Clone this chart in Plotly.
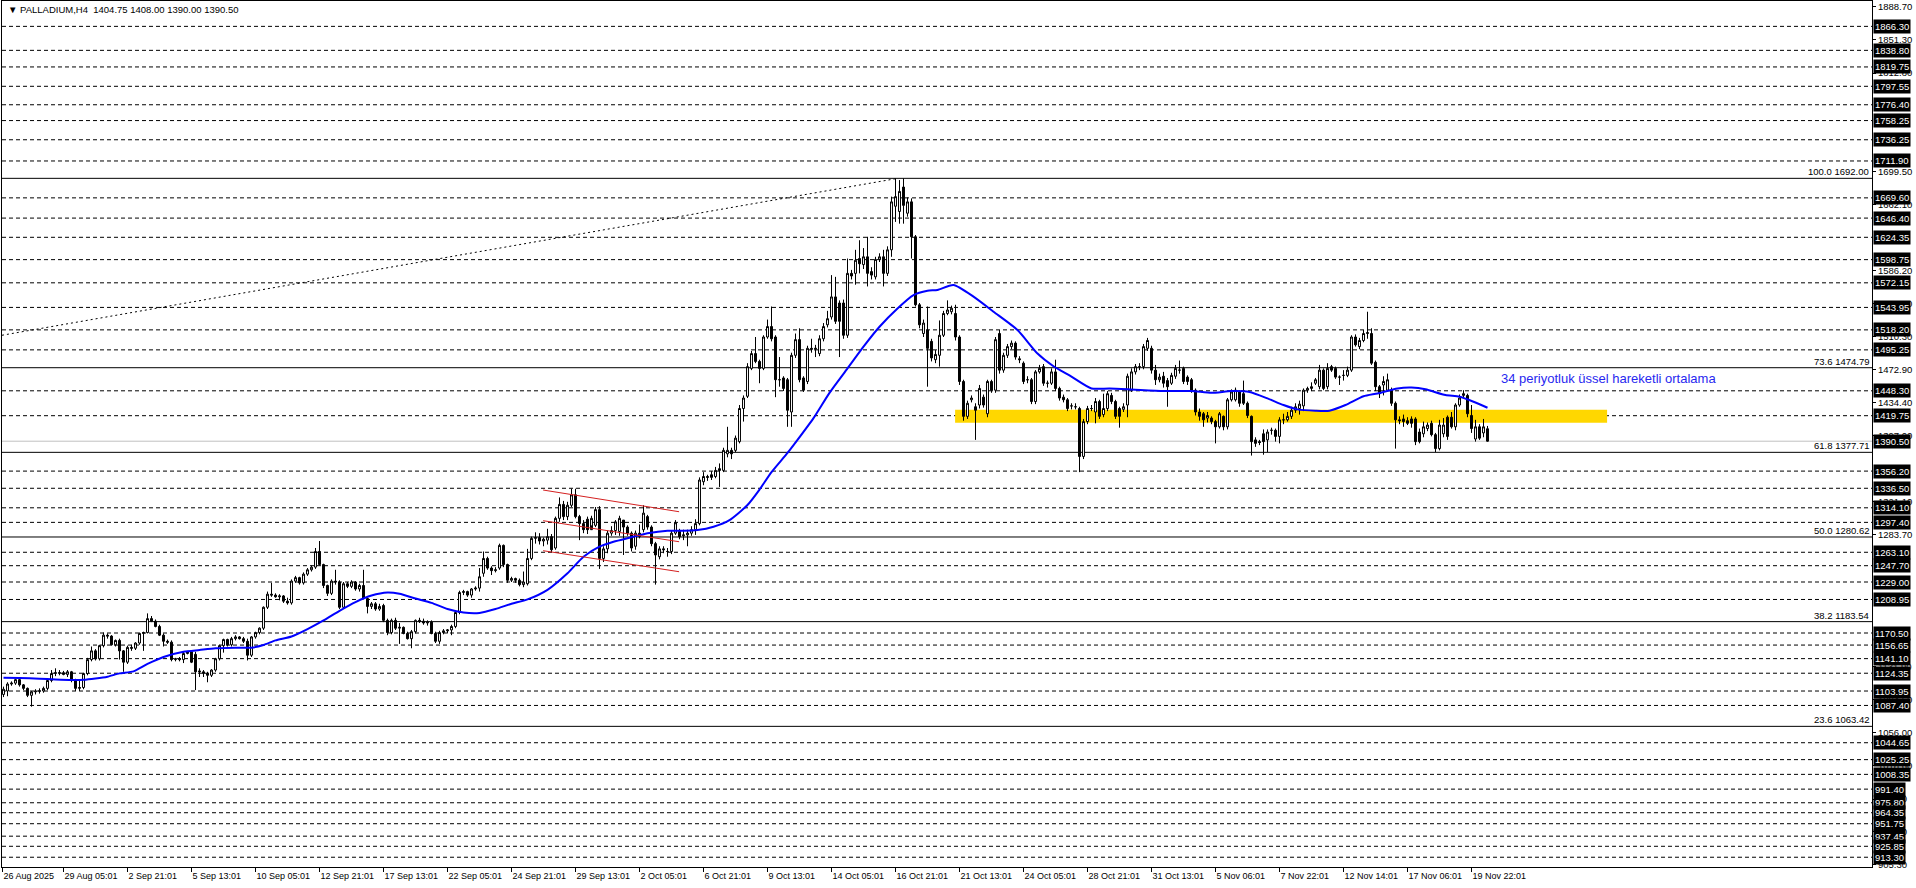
import plotly.graph_objects as go

# ---------------- data (H4 bars, index 0 = 26 Aug 2025) ----------------
opens = [
1100,1104,1112,1113,1117,1111,1107,1099,1103,1104,
1104,1107,1116,1124,1125,1125,1123,1126,1116,1107,
1108,1124,1140,1150,1141,1156,1168,1167,1157,1162,
1150,1137,1154,1153,1159,1170,1171,1187,1184,1178,
1168,1161,1160,1140,1141,1140,1147,1149,1146,1127,
1126,1124,1122,1128,1141,1156,1163,1157,1164,1166,
1164,1161,1145,1166,1171,1176,1200,1215,1214,1212,
1213,1207,1205,1230,1234,1228,1238,1243,1246,1264,
1249,1225,1216,1230,1229,1200,1227,1224,1229,1221,
1225,1210,1201,1204,1198,1202,1185,1171,1185,1176,
1177,1170,1164,1172,1185,1184,1182,1183,1170,1161,
1171,1173,1174,1178,1194,1217,1218,1214,1221,1222,
1239,1256,1245,1242,1245,1271,1249,1231,1233,1231,
1226,1227,1256,1279,1280,1276,1277,1281,1268,1302,
1318,1304,1317,1329,1304,1296,1301,1289,1294,1312,
1256,1267,1285,1288,1287,1300,1292,1285,1270,1285,
1289,1304,1292,1273,1258,1267,1264,1264,1285,1287,
1282,1283,1285,1289,1296,1344,1350,1352,1350,1359,
1357,1376,1380,1380,1390,1428,1442,1474,1491,1482,
1474,1510,1522,1510,1461,1463,1461,1424,1489,1507,
1463,1459,1497,1496,1491,1508,1524,1533,1556,1549,
1549,1512,1583,1583,1600,1593,1602,1585,1579,1599,
1602,1583,1610,1660,1654,1682,1652,1665,1625,1547,
1514,1518,1505,1484,1489,1512,1537,1539,1537,1510,
1459,1419,1438,1430,1432,1441,1422,1459,1449,1514,
1472,1489,1499,1503,1485,1480,1461,1461,1436,1470,
1476,1457,1457,1470,1451,1441,1438,1431,1430,1428,
1373,1413,1428,1424,1436,1421,1428,1443,1436,1428,
1427,1432,1449,1470,1476,1476,1497,1497,1472,1461,
1465,1460,1457,1465,1472,1474,1464,1461,1449,1424,
1422,1417,1417,1413,1407,1419,1407,1438,1438,1447,
1445,1434,1419,1392,1390,1399,1392,1403,1403,1396,
1415,1415,1419,1426,1428,1431,1449,1451,1457,1453,
1472,1453,1476,1474,1464,1466,1466,1472,1510,1499,
1506,1514,1514,1481,1453,1455,1449,1449,1434,1415,
1416,1414,1416,1416,1401,1399,1405,1411,1398,1382,
1399,1418,1418,1407,1432,1443,1443,1420,1393,1407,
1400,1404.75]

highs = [
1109,1114,1115,1118,1120,1112,1108,1104,1106,1107,
1109,1118,1128,1130,1128,1127,1128,1127,1118,1116,
1125,1142,1155,1152,1157,1171,1170,1168,1163,1164,
1151,1156,1157,1160,1171,1172,1193,1190,1186,1180,
1170,1163,1162,1142,1143,1149,1150,1150,1149,1130,
1128,1126,1129,1142,1157,1164,1164,1166,1168,1167,
1166,1164,1167,1172,1177,1201,1218,1228,1216,1215,
1214,1211,1232,1236,1235,1240,1245,1248,1268,1276,
1250,1226,1232,1243,1231,1229,1229,1231,1230,1227,
1243,1211,1206,1206,1204,1204,1187,1187,1188,1182,
1178,1172,1174,1186,1188,1187,1185,1185,1172,1173,
1175,1175,1180,1195,1219,1220,1219,1222,1224,1245,
1264,1258,1247,1246,1273,1272,1250,1235,1234,1233,
1241,1267,1281,1286,1285,1280,1290,1284,1304,1326,
1322,1321,1336,1336,1306,1300,1304,1305,1315,1316,
1270,1288,1293,1300,1305,1298,1294,1287,1288,1295,
1317,1306,1294,1275,1270,1270,1268,1288,1300,1290,
1289,1289,1293,1301,1349,1355,1352,1356,1361,1365,
1383,1407,1383,1397,1432,1443,1480,1494,1510,1484,
1512,1530,1545,1512,1487,1465,1463,1492,1514,1520,
1465,1500,1508,1501,1512,1526,1540,1581,1579,1552,
1553,1600,1587,1610,1621,1612,1625,1590,1602,1606,
1610,1614,1671,1692,1690,1692,1670,1669,1627,1549,
1530,1545,1508,1495,1529,1540,1552,1546,1547,1512,
1461,1437,1443,1434,1455,1444,1461,1461,1510,1518,
1492,1502,1506,1505,1488,1482,1465,1463,1472,1478,
1479,1460,1474,1484,1453,1444,1440,1434,1434,1430,
1416,1431,1432,1440,1438,1445,1448,1446,1438,1430,
1434,1468,1474,1479,1480,1502,1509,1500,1478,1468,
1470,1463,1469,1478,1483,1476,1466,1463,1451,1428,
1424,1424,1419,1415,1424,1420,1440,1450,1452,1449,
1460,1436,1420,1395,1392,1404,1404,1406,1405,1418,
1422,1424,1430,1434,1437,1451,1453,1458,1463,1478,
1474,1480,1478,1476,1466,1472,1476,1512,1513,1509,
1518,1539,1520,1483,1455,1465,1468,1452,1436,1419,
1421,1418,1419,1418,1405,1413,1412,1414,1400,1415,
1417,1420,1424,1434,1444,1449,1445,1432,1415,1410,
1416,1408]

lows = [
1097,1098,1110,1111,1109,1105,1097,1086,1100,1101,
1102,1105,1114,1121,1122,1122,1120,1114,1104,1104,
1106,1122,1138,1139,1139,1154,1164,1156,1155,1140,
1126,1135,1150,1151,1157,1150,1170,1183,1177,1167,
1155,1158,1138,1138,1138,1136,1146,1136,1105,1120,
1120,1114,1120,1126,1139,1148,1155,1155,1162,1163,
1159,1139,1143,1164,1169,1174,1198,1212,1211,1208,
1205,1203,1203,1228,1226,1226,1236,1241,1244,1248,
1222,1213,1214,1226,1198,1198,1222,1222,1219,1218,
1209,1193,1198,1196,1196,1183,1168,1169,1174,1158,
1169,1163,1153,1170,1182,1180,1179,1169,1159,1158,
1169,1170,1168,1176,1192,1214,1212,1211,1219,1218,
1235,1243,1237,1240,1243,1246,1228,1229,1228,1224,
1223,1225,1254,1273,1272,1270,1272,1263,1266,1298,
1300,1300,1315,1302,1277,1285,1284,1294,1292,1244,
1252,1262,1282,1283,1282,1260,1282,1264,1266,1279,
1286,1289,1270,1226,1255,1262,1258,1261,1283,1278,
1277,1270,1282,1283,1294,1340,1345,1346,1348,1338,
1355,1372,1370,1378,1388,1413,1440,1472,1480,1457,
1472,1508,1505,1441,1453,1448,1407,1407,1486,1458,
1447,1456,1492,1487,1488,1505,1521,1530,1525,1487,
1508,1509,1576,1570,1583,1588,1568,1576,1576,1596,
1568,1580,1602,1642,1640,1640,1648,1600,1545,1520,
1510,1453,1482,1480,1476,1510,1535,1536,1506,1455,
1414,1416,1435,1392,1428,1429,1418,1446,1446,1468,
1469,1486,1496,1484,1480,1456,1457,1433,1433,1468,
1454,1452,1455,1448,1437,1435,1425,1427,1427,1355,
1370,1410,1425,1411,1416,1418,1425,1433,1416,1406,
1424,1418,1447,1467,1472,1473,1494,1468,1455,1458,
1452,1430,1455,1462,1468,1456,1455,1446,1420,1414,
1407,1412,1410,1388,1405,1403,1404,1436,1436,1430,
1432,1417,1374,1384,1386,1375,1378,1398,1390,1388,
1410,1413,1416,1423,1421,1425,1446,1448,1455,1450,
1449,1450,1470,1462,1455,1460,1464,1470,1499,1496,
1504,1508,1478,1448,1440,1443,1447,1431,1382,1410,
1407,1409,1406,1386,1388,1395,1402,1396,1378,1380,
1395,1392,1405,1403,1430,1440,1418,1400,1390,1392,
1395,1390]

closes = [
1106,1112,1113,1117,1111,1107,1099,1103,1104,1104,
1107,1116,1124,1125,1125,1123,1126,1116,1107,1108,
1124,1140,1150,1141,1156,1168,1167,1157,1162,1150,
1137,1154,1153,1159,1170,1171,1187,1184,1178,1168,
1161,1160,1140,1141,1140,1147,1149,1137,1126,1126,
1124,1122,1128,1141,1156,1163,1157,1164,1166,1164,
1161,1145,1166,1171,1176,1200,1215,1214,1212,1213,
1207,1205,1230,1234,1228,1238,1243,1246,1264,1249,
1225,1216,1230,1229,1200,1227,1224,1229,1221,1225,
1210,1201,1204,1198,1201,1185,1171,1185,1176,1177,
1170,1164,1172,1185,1184,1182,1183,1170,1161,1171,
1173,1174,1178,1194,1217,1218,1214,1221,1222,1235,
1256,1245,1242,1243,1271,1249,1231,1233,1231,1226,
1229,1256,1279,1280,1276,1278,1281,1266,1302,1318,
1304,1317,1329,1304,1296,1289,1289,1302,1312,1256,
1267,1285,1288,1298,1302,1292,1285,1268,1285,1281,
1308,1292,1273,1260,1267,1266,1264,1285,1297,1281,
1283,1285,1289,1296,1346,1350,1349,1349,1357,1357,
1380,1380,1376,1394,1428,1440,1476,1491,1482,1474,
1510,1522,1508,1461,1461,1451,1426,1489,1507,1461,
1449,1497,1496,1497,1508,1522,1531,1556,1528,1528,
1512,1583,1580,1598,1594,1602,1583,1581,1599,1602,
1583,1610,1665,1671,1677,1661,1665,1625,1547,1524,
1526,1497,1486,1490,1512,1537,1541,1543,1510,1459,
1419,1434,1440,1426,1451,1432,1459,1449,1507,1472,
1489,1499,1503,1487,1484,1459,1461,1436,1470,1474,
1457,1457,1470,1451,1440,1438,1428,1431,1430,1373,
1413,1428,1428,1436,1419,1428,1445,1436,1419,1419,
1430,1465,1470,1476,1476,1499,1506,1472,1461,1464,
1457,1453,1466,1474,1472,1459,1459,1449,1424,1419,
1415,1420,1413,1407,1422,1407,1438,1447,1449,1434,
1434,1420,1390,1388,1389,1390,1401,1403,1396,1415,
1415,1419,1426,1430,1433,1449,1451,1453,1461,1472,
1451,1474,1472,1464,1464,1466,1472,1510,1501,1506,
1514,1515,1480,1453,1445,1459,1461,1434,1415,1414,
1413,1411,1411,1390,1390,1407,1409,1398,1382,1409,
1409,1396,1407,1432,1440,1445,1422,1405,1407,1394,
1407,1390.5]

# 34-period EMA (bar index, value)
ema_bars = [0, 4, 9, 13, 17, 20, 23, 26, 29, 32.5, 36, 40, 45, 49, 53, 58, 62, 65, 68, 72,
            76, 80, 84, 88, 92, 96, 99, 103, 107, 111, 115, 119, 123, 127, 131, 136, 141,
            145, 149, 152.5, 156.5, 161, 166, 170, 173.5, 177.5, 181.5, 186, 189, 192, 196,
            198.5, 202.5, 206.5, 211, 215, 219, 223.5, 227.5, 231, 233.5, 237.5, 242.5,
            247.5, 253.5, 258.5, 262.5, 266.5, 272, 276.5, 283, 290, 297, 302, 307, 311.5,
            316, 320, 323.5, 328, 331.5, 335.5, 340, 343.5, 348.5, 352, 355.5, 360.5, 364,
            367.5, 371]
ema_values = [1119.3, 1119.0, 1118.1, 1117.2, 1116.6, 1116.8, 1118.3, 1120.4, 1124.2, 1126.5,
              1135.0, 1143.0, 1149.0, 1151.0, 1153.0, 1153.7, 1153.7, 1156.7, 1162.0, 1166.5,
              1175.0, 1185.0, 1196.0, 1206.0, 1213.5, 1217.0, 1215.5, 1210.0, 1205.0, 1198.0,
              1194.0, 1193.5, 1198.0, 1204.0, 1209.0, 1220.0, 1239.0, 1258.0, 1269.5, 1275.2,
              1279.8, 1284.8, 1287.8, 1287.8, 1288.6, 1292.4, 1300.0, 1317.3, 1335.0, 1355.0,
              1377.0, 1392.0, 1417.0, 1446.0, 1474.0, 1499.0, 1521.8, 1542.8, 1558.1, 1563.0,
              1564.0, 1569.6, 1556.3, 1539.0, 1518.0, 1491.0, 1476.5, 1466.0, 1451.0, 1451.0,
              1449.5, 1448.0, 1448.0, 1446.0, 1448.0, 1447.0, 1439.6, 1432.0, 1427.0, 1425.5,
              1425.5, 1432.0, 1442.0, 1445.3, 1451.0, 1452.0, 1450.0, 1443.4, 1441.5, 1435.8,
              1428.9]

x_labels = ["26 Aug 2025", "29 Aug 05:01", "2 Sep 21:01", "5 Sep 13:01", "10 Sep 05:01",
            "12 Sep 21:01", "17 Sep 13:01", "22 Sep 05:01", "24 Sep 21:01", "29 Sep 13:01",
            "2 Oct 05:01", "6 Oct 21:01", "9 Oct 13:01", "14 Oct 05:01", "16 Oct 21:01",
            "21 Oct 13:01", "24 Oct 05:01", "28 Oct 21:01", "31 Oct 13:01", "5 Nov 06:01",
            "7 Nov 22:01", "12 Nov 14:01", "17 Nov 06:01", "19 Nov 22:01"]
x_label_bars = [-0.25, 15, 31, 47, 63, 79, 95, 111, 127, 143, 159, 175, 191, 207, 223,
                239, 255, 271, 287, 303, 319, 335, 351, 367]

# price-scale labels that stay (at least partly) visible next to the line labels
price_scale = [1888.70, 1851.30, 1812.80, 1699.50, 1662.10,
               1586.20, 1548.80, 1510.30, 1472.90, 1434.40, 1397.00, 1321.10,
               1283.70, 1131.90, 1094.50, 1056.00, 1018.60,
               980.10, 942.70, 905.30]

hlines = [1866.30, 1838.80, 1819.75, 1797.55, 1776.40, 1758.25, 1736.25, 1711.90, 1669.60,
          1646.40, 1624.35, 1598.75, 1572.15, 1543.95, 1518.20, 1495.25, 1448.30, 1419.75,
          1356.20, 1336.50, 1314.10, 1297.40, 1263.10, 1247.70, 1229.00, 1208.95, 1170.50,
          1156.65, 1141.10, 1124.35, 1103.95, 1087.40, 1044.65, 1025.25, 1008.35, 991.40,
          975.80, 964.35, 951.75, 937.45, 925.85, 913.30]

fib_pct = ["100.0", "73.6", "61.8", "50.0", "38.2", "23.6"]
fib_levels = [1692.00, 1474.79, 1377.71, 1280.62, 1183.54, 1063.42]

bid_price = 1390.50

zone_bars = [237.9, 400.9]
zone_prices = [1411.6, 1426.5]

fib_link_bars = [-0.375, 223.6]
fib_link_prices = [1512.0, 1692.0]

channel_bars = [134.9, 168.9]
channel_upper = [1334.5, 1309.6]
channel_mid = [1299.3, 1275.2]
channel_lower = [1264.9, 1240.8]

ema_note = "34 periyotluk üssel hareketli ortalama"
ema_note_pos = [373.9, 1462.9]

title_text = "▼ PALLADIUM,H4  1404.75 1408.00 1390.00 1390.50"

# ---------------- figure ----------------
idx = list(range(len(closes)))

FONT = "Liberation Sans"

fig = go.Figure()

fig.add_trace(go.Candlestick(
    x=idx, open=opens, high=highs, low=lows, close=closes,
    increasing=dict(line=dict(color="black", width=1), fillcolor="white"),
    decreasing=dict(line=dict(color="black", width=1), fillcolor="black"),
    whiskerwidth=0, hoverinfo="skip", showlegend=False))

fig.add_trace(go.Scatter(x=ema_bars, y=ema_values, mode="lines",
                         line=dict(color="#0000ff", width=2, shape="spline", smoothing=0.6),
                         hoverinfo="skip", showlegend=False))

shapes = []
shapes.append(dict(type="rect", xref="x", yref="y", x0=zone_bars[0], x1=zone_bars[1],
                   y0=zone_prices[0], y1=zone_prices[1], fillcolor="#ffd700",
                   line=dict(width=0), layer="below"))
for lv in hlines:
    shapes.append(dict(type="line", xref="paper", yref="y", x0=0, x1=1, y0=lv, y1=lv,
                       line=dict(color="black", width=1, dash="4px,3px"), layer="below"))
for lv in fib_levels:
    shapes.append(dict(type="line", xref="paper", yref="y", x0=0, x1=1, y0=lv, y1=lv,
                       line=dict(color="black", width=1), layer="below"))
shapes.append(dict(type="line", xref="paper", yref="y", x0=0, x1=1, y0=bid_price, y1=bid_price,
                   line=dict(color="#c0c0c0", width=1), layer="below"))
shapes.append(dict(type="line", xref="x", yref="y", x0=fib_link_bars[0], x1=fib_link_bars[1],
                   y0=fib_link_prices[0], y1=fib_link_prices[1],
                   line=dict(color="black", width=1, dash="2px,3px"), layer="below"))
for ys in (channel_upper, channel_mid, channel_lower):
    shapes.append(dict(type="line", xref="x", yref="y", x0=channel_bars[0], x1=channel_bars[1],
                       y0=ys[0], y1=ys[1], line=dict(color="#d42020", width=1), layer="above"))

annotations = []
for lv in hlines + [bid_price]:
    annotations.append(dict(xref="paper", yref="y", x=1, y=lv, xanchor="left", yanchor="middle",
                            text="%.2f" % lv, showarrow=False, bgcolor="black", borderpad=1,
                            xshift=1, font=dict(family=FONT, size=9.5, color="white")))
for pct, lv in zip(fib_pct, fib_levels):
    annotations.append(dict(xref="paper", yref="y", x=1, y=lv, xanchor="right", yanchor="bottom",
                            text="%s %.2f" % (pct, lv), showarrow=False, xshift=-1, yshift=-1,
                            font=dict(family=FONT, size=9.5, color="black")))
annotations.append(dict(xref="x", yref="y", x=ema_note_pos[0], y=ema_note_pos[1],
                        xanchor="left", yanchor="middle", text=ema_note, showarrow=False,
                        font=dict(family=FONT, size=13, color="#2828f0")))
annotations.append(dict(xref="paper", yref="paper", x=0, y=1, xanchor="left", yanchor="top",
                        xshift=4, yshift=-1, text=title_text, showarrow=False,
                        font=dict(family=FONT, size=9.5, color="black")))

fig.update_layout(
    width=1916, height=888,
    margin=dict(l=2, r=44, t=1, b=21, autoexpand=False),
    paper_bgcolor="white", plot_bgcolor="white",
    shapes=shapes, annotations=annotations,
    showlegend=False, hovermode=False,
    xaxis=dict(range=[-0.375, 467.125], rangeslider=dict(visible=False),
               showgrid=False, zeroline=False, showline=True, mirror=True,
               linecolor="black", linewidth=1, ticks="outside", ticklen=4, tickcolor="black",
               tickvals=x_label_bars, ticktext=x_labels, ticklabelposition="outside right",
               tickangle=0, automargin=False,
               tickfont=dict(family=FONT, size=9, color="black"), fixedrange=True),
    yaxis=dict(range=[902.1, 1895.4], side="right", showgrid=False, zeroline=False,
               showline=True, mirror=True, linecolor="black", linewidth=1,
               ticks="outside", ticklen=3, tickcolor="black", automargin=False,
               tickvals=price_scale, ticktext=["%.2f" % v for v in price_scale],
               tickfont=dict(family=FONT, size=9.5, color="black"), fixedrange=True),
)

fig.write_html("out.html", config={"displayModeBar": False},
               post_script="document.body.style.margin='0px';document.body.style.overflow='hidden';")
